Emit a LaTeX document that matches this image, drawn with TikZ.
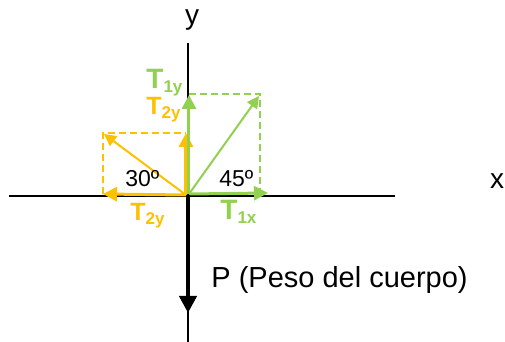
\documentclass[tikz,border=0pt]{standalone}
\usepackage{fontspec}
\setmainfont{Liberation Sans}
\usetikzlibrary{arrows.meta, positioning}
\definecolor{verde}{HTML}{92D050}
\definecolor{amarillo}{HTML}{FFC000}
\newcommand{\subind}[1]{\raisebox{-2pt}{\fontsize{8.5}{8.5}\selectfont #1}}

\begin{document}
\begin{tikzpicture}[x=0.5pt, y=-0.5pt,
    eje/.style={line width=0.7pt},
    fuerza/.style={line width=1.5pt, -{Triangle[length=7pt,width=7pt]}},
    oblicua/.style={line width=1pt, -{Triangle[length=6pt,width=6pt]}},
    guia/.style={line width=0.7pt, dash pattern=on 3.5pt off 2pt},
    texto/.style={inner sep=0pt, anchor=base west}]
    \useasboundingbox (0,0) rectangle (505,342);
    % Points
    \coordinate (O) at (188,195);
    \coordinate (ejeL) at (9,196);
    \coordinate (ejeR) at (395,196);
    \coordinate (ejeT) at (188,43);
    \coordinate (ejeB) at (188,342);
    % Axes
    \draw[eje] (ejeL) -- (ejeR);
    \draw[eje] (ejeT) -- (ejeB);
    \node (ly) at (192,20) {\fontsize{14}{14}\selectfont y};
    \node (lx) at (497,181) {\fontsize{14}{14}\selectfont x};
    % Tension T2 (yellow)
    \coordinate (O2) at (186,195);
    \coordinate (T2) at (104,134);
    \coordinate (T2y) at (186,133);
    \coordinate (T2x) at (103,194);
    \coordinate (c2) at (103,133);
    \draw[guia, amarillo] (T2x) -- (c2) -- (T2y);
    \draw[oblicua, amarillo] (O2) -- (T2);
    \draw[fuerza, amarillo] (O2) -- (T2y);
    \draw[fuerza, amarillo] (O2) -- (T2x);
    % Tension T1 (green)
    \coordinate (O1) at (189,194);
    \coordinate (T1) at (259,96);
    \coordinate (T1y) at (189,95);
    \coordinate (T1x) at (268,193);
    \coordinate (c1a) at (189,94);
    \coordinate (c1b) at (260,94);
    \coordinate (c1c) at (260,193);
    \draw[guia, verde] (c1a) -- (c1b) -- (c1c);
    \draw[oblicua, verde] (O1) -- (T1);
    \draw[fuerza, verde] (O1) -- (T1y);
    \draw[fuerza, verde] (O1) -- (T1x);
    % Weight
    \coordinate (P) at (188,313);
    \draw[line width=2pt, -{Triangle[length=8.5pt,width=8.5pt]}] (O) -- (P);
    % Labels
    \node[texto, verde] (lT1y) at (146,89) {\fontsize{14}{14}\selectfont\bfseries T\subind{1y}};
    \node[texto, amarillo] (lT2y) at (146,115) {\fontsize{12.5}{12.5}\selectfont\bfseries T\subind{2y}};
    \node[texto, amarillo] (lT2x) at (130,221) {\fontsize{12.5}{12.5}\selectfont\bfseries T\subind{2y}};
    \node[texto, verde] (lT1x) at (220,220) {\fontsize{14}{14}\selectfont\bfseries T\subind{1x}};
    \node[texto] (a30) at (125,187) {\fontsize{11.5}{11.5}\selectfont 30º};
    \node[texto] (a45) at (219,187) {\fontsize{11.5}{11.5}\selectfont 45º};
    \node[texto] (lP) at (211,288) {\fontsize{14.5}{14.5}\selectfont P (Peso del cuerpo)};
\end{tikzpicture}
\end{document}
